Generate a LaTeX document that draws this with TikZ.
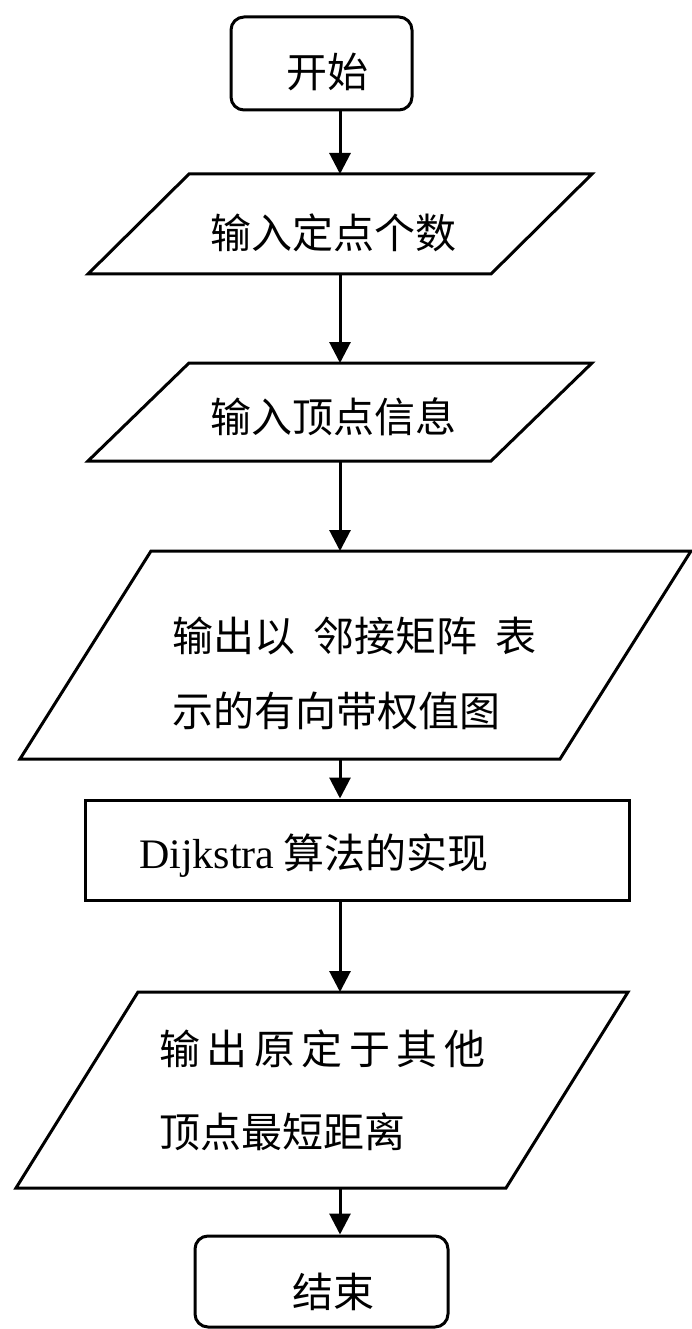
\documentclass[tikz,border=0pt]{standalone}
\usepackage{fontspec}
\setmainfont{Liberation Serif}
\newfontfamily\cjk{Noto Sans CJK SC}
\usetikzlibrary{arrows.meta,calc}
\newcommand\paral[2]{\draw[para] ($(#1.north west)+(#2,0)$) -- ($(#1.north east)+(#2,0)$) -- ($(#1.south east)-(#2,0)$) -- ($(#1.south west)-(#2,0)$) -- cycle;}
\begin{document}
\begin{tikzpicture}[x=1pt,y=-1pt,
  box/.style={draw=black,line width=3pt,inner sep=0pt},
  termbox/.style={box,rounded corners=13pt},
  shapebox/.style={inner sep=0pt,outer sep=0pt},
  para/.style={draw=black,line width=3pt,line join=miter},
  lbl/.style={inner sep=0pt,font=\cjk\fontsize{41}{41}\selectfont},
  flow/.style={line width=3pt,-{Triangle[width=21pt,length=21pt]}}]
\useasboundingbox (0,0) rectangle (692,1329);
\fill[white] (0,0) rectangle (692,1329);
% shapes
\node[termbox,minimum width=181,minimum height=93] (start) at (321.5,63.5) {};
\node[shapebox,minimum width=403,minimum height=100] (p1) at (340,224) {};
\paral{p1}{50.5}
\node[shapebox,minimum width=403,minimum height=98] (p2) at (340,412) {};
\paral{p2}{50.5}
\node[shapebox,minimum width=540,minimum height=208] (p3) at (355.5,655) {};
\paral{p3}{65.5}
\node[box,minimum width=544,minimum height=100] (rect) at (357,850) {};
\node[shapebox,minimum width=490,minimum height=196] (p6) at (322,1090) {};
\paral{p6}{61}
\node[termbox,minimum width=253,minimum height=91] (end) at (321.5,1281.5) {};
% labels
\node[lbl] (t0) at (327,72) {开始};
\node[lbl] (t1) at (333,233) {输入定点个数};
\node[lbl] (t2) at (333,417) {输入顶点信息};
\node[lbl,anchor=west,align=left,font=\cjk\fontsize{41}{75}\selectfont] (t3) at (172,673.5) {输出以\hspace{18pt}邻接矩阵\hspace{18pt}表\\示的有向带权值图};
\node[lbl,anchor=west] (t4) at (139,856) {{\rmfamily\fontsize{42}{42}\selectfont Dijkstra} 算法的实现};
\node[lbl,anchor=west,align=left,font=\cjk\fontsize{41}{83}\selectfont] (t6) at (159,1090.5) {输\hspace{6.5pt}出\hspace{6.5pt}原\hspace{6.5pt}定\hspace{6.5pt}于\hspace{6.5pt}其\hspace{6.5pt}他\\顶点最短距离};
\node[lbl] (t7) at (333,1292) {结束};
% connectors
\draw[flow] (start.south -| p1.north) -- (p1.north);
\draw[flow] (p1.south) -- (p2.north);
\draw[flow] (p2.south) -- (p3.north -| p2.south);
\draw[flow] (p3.south -| p2.south) -- (rect.north -| p2.south);
\draw[flow] (rect.south -| p2.south) -- (p6.north -| p2.south);
\draw[flow] (p6.south -| p2.south) -- (end.north -| p2.south);
\end{tikzpicture}
\end{document}
